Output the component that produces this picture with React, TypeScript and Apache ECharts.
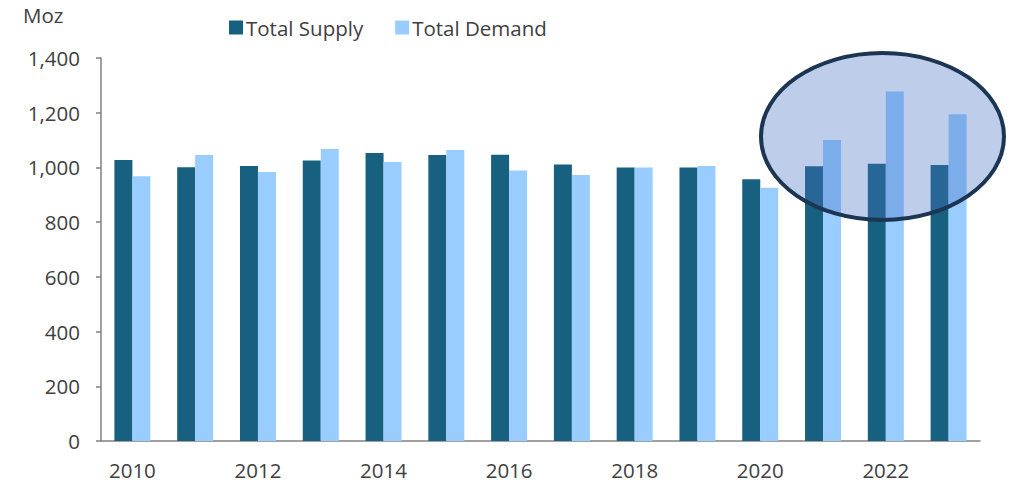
import React, { useEffect, useRef } from "react";
import * as echarts from "echarts";

const years = ["2010","2011","2012","2013","2014","2015","2016","2017","2018","2019","2020","2021","2022","2023"];
const totalSupply = [1027, 1001, 1005, 1025, 1053, 1045, 1046, 1011, 1000, 1000, 957, 1004, 1013, 1009];
const totalDemand = [968, 1045, 983, 1067, 1020, 1064, 989, 972, 1000, 1005, 926, 1100, 1278, 1194];
const yTicks = { min: 0, max: 1400, interval: 200 };
const unitLabel = "Moz";

const FONT = "'Open Sans', 'Noto Sans', sans-serif";
const TEXT = "#404040";
const FS = 20.5;

export default function App() {
  const ref = useRef<HTMLDivElement>(null);
  useEffect(() => {
    if (!ref.current) return;
    const chart = echarts.init(ref.current, null, { renderer: "svg" });
    chart.setOption({
      animation: false,
      backgroundColor: "#ffffff",
      textStyle: { fontFamily: FONT, color: TEXT },
      title: {
        text: unitLabel,
        left: 18,
        top: -1,
        padding: 5,
        textStyle: { fontFamily: FONT, fontSize: FS, fontWeight: "normal", color: TEXT },
      },
      legend: {
        left: 224,
        top: 12,
        itemWidth: 14,
        itemHeight: 14,
        itemGap: 32,
        icon: "rect",
        textStyle: { fontFamily: FONT, fontSize: FS, color: TEXT, padding: [0, 0, 0, -2] },
        data: ["Total Supply", "Total Demand"],
      },
      grid: { left: 101, right: 32, top: 58, bottom: 42, containLabel: false },
      xAxis: {
        type: "category",
        data: years,
        axisLine: { lineStyle: { color: "#808080", width: 1.5 } },
        axisTick: { show: false },
        axisLabel: { interval: 1, margin: 18, fontSize: FS, color: TEXT, fontFamily: FONT },
      },
      yAxis: {
        type: "value",
        min: yTicks.min,
        max: yTicks.max,
        interval: yTicks.interval,
        axisLine: { show: true, lineStyle: { color: "#808080", width: 1.5 } },
        axisTick: { show: true, length: 5, lineStyle: { color: "#808080", width: 1.5 } },
        splitLine: { show: false },
        axisLabel: {
          margin: 21,
          fontSize: FS,
          color: TEXT,
          fontFamily: FONT,
          formatter: (v: number) => v.toLocaleString("en-US"),
        },
      },
      series: [
        {
          name: "Total Supply",
          type: "bar",
          data: totalSupply,
          barWidth: 18,
          barGap: "0%",
          itemStyle: { color: "#17607F" },
        },
        {
          name: "Total Demand",
          type: "bar",
          data: totalDemand,
          barWidth: 18,
          itemStyle: { color: "#99CCFF" },
        },
      ],
      graphic: [
        {
          type: "ellipse",
          z: 100,
          shape: { cx: 882.5, cy: 136.5, rx: 121.5, ry: 83.5 },
          style: { fill: "rgba(68,114,196,0.35)", stroke: "#1C3553", lineWidth: 4 },
        },
      ],
    });
    return () => chart.dispose();
  }, []);
  return <div ref={ref} style={{ width: 1012, height: 483, position: "absolute", left: 0, top: 0 }} />;
}
